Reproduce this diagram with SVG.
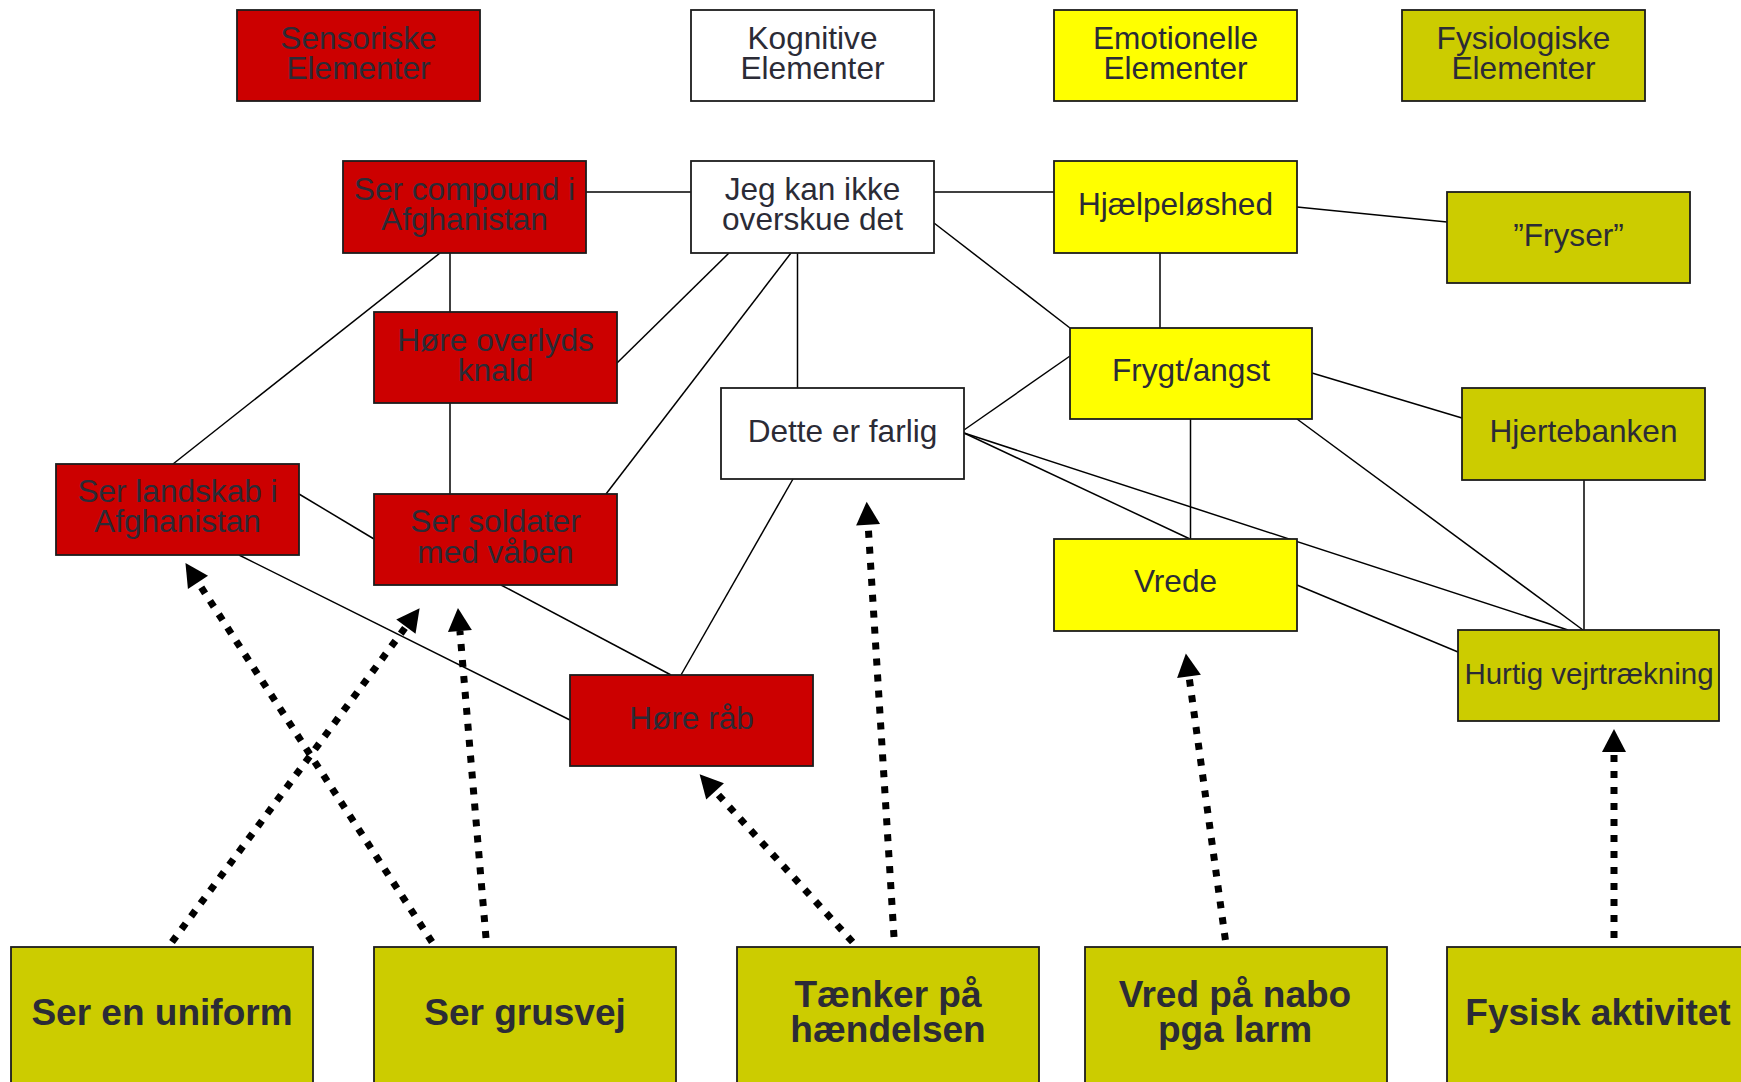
<svg xmlns="http://www.w3.org/2000/svg" width="1741" height="1082" viewBox="0 0 1741 1082">
<defs>
<style>
.box{stroke:#1c1c1c;stroke-width:1.8}
.red{fill:#cc0000}
.wht{fill:#ffffff}
.yel{fill:#ffff00}
.olv{fill:#cccc00}
.t{font-family:"Liberation Sans",Arial,sans-serif;font-size:31.6px;fill:#2b2b36;text-anchor:middle}
.tb{font-family:"Liberation Sans",Arial,sans-serif;font-size:37px;font-weight:bold;fill:#2b2b36;text-anchor:middle}
.ln{stroke:#000;stroke-width:1.5;fill:none}
.dash{stroke:#000;stroke-width:7;fill:none;stroke-dasharray:7 9;marker-end:url(#ah)}
</style>
<marker id="ah" markerUnits="userSpaceOnUse" markerWidth="24" markerHeight="24" refX="0" refY="12" orient="auto" overflow="visible">
<path d="M0,0 L23,12 L0,24 z" fill="#000"/>
</marker>
</defs>
<rect width="1741" height="1082" fill="#ffffff"/>
<g id="connectors">
<line class="ln" x1="586" y1="192" x2="691" y2="192"/>
<line class="ln" x1="934" y1="192" x2="1054" y2="192"/>
<line class="ln" x1="1297" y1="207" x2="1447" y2="222"/>
<line class="ln" x1="934" y1="223" x2="1070" y2="328"/>
<line class="ln" x1="1160" y1="253" x2="1160" y2="328"/>
<line class="ln" x1="440" y1="253" x2="173" y2="464"/>
<line class="ln" x1="450" y1="253" x2="450" y2="312"/>
<line class="ln" x1="450" y1="403" x2="450" y2="494"/>
<line class="ln" x1="299" y1="494" x2="374" y2="539"/>
<line class="ln" x1="239" y1="555" x2="570" y2="720"/>
<line class="ln" x1="501" y1="585" x2="671" y2="675"/>
<line class="ln" x1="793" y1="479" x2="681" y2="675"/>
<line class="ln" x1="729" y1="253" x2="617" y2="363"/>
<line class="ln" x1="791" y1="253" x2="606" y2="494"/>
<line class="ln" x1="797.5" y1="253" x2="797.5" y2="388"/>
<line class="ln" x1="964" y1="430" x2="1070" y2="356"/>
<line class="ln" x1="964" y1="433" x2="1190" y2="539"/>
<line class="ln" x1="964" y1="433" x2="1568" y2="630"/>
<line class="ln" x1="1190.5" y1="419" x2="1190.5" y2="539"/>
<line class="ln" x1="1312" y1="373" x2="1462" y2="418"/>
<line class="ln" x1="1297" y1="419" x2="1583" y2="630"/>
<line class="ln" x1="1584" y1="480" x2="1584" y2="630"/>
<line class="ln" x1="1297" y1="585" x2="1458" y2="652"/>
<path class="dash" d="M172,942 L405.9,626.7"/>
<path class="dash" d="M432,942 L198,582.4"/>
<path class="dash" d="M486,938 L459.9,630.9"/>
<path class="dash" d="M852.6,942 L715.1,791.3"/>
<path class="dash" d="M894,937 L868.1,524.7"/>
<path class="dash" d="M1225.4,940 L1189,676.3"/>
<path class="dash" d="M1614,938 L1614,752"/>
</g>
<g id="n-sensoriske"><rect class="box red" x="237" y="10" width="243" height="91"/><text class="t" x="358.5" y="48.5">Sensoriske</text><text class="t" x="358.5" y="78.5">Elementer</text></g>
<g id="n-kognitive"><rect class="box wht" x="691" y="10" width="243" height="91"/><text class="t" x="812.5" y="48.5">Kognitive</text><text class="t" x="812.5" y="78.5">Elementer</text></g>
<g id="n-emotionelle"><rect class="box yel" x="1054" y="10" width="243" height="91"/><text class="t" x="1175.5" y="48.5">Emotionelle</text><text class="t" x="1175.5" y="78.5">Elementer</text></g>
<g id="n-fysiologiske"><rect class="box olv" x="1402" y="10" width="243" height="91"/><text class="t" x="1523.5" y="48.5">Fysiologiske</text><text class="t" x="1523.5" y="78.5">Elementer</text></g>
<g id="n-compound"><rect class="box red" x="343" y="161" width="243" height="92"/><text class="t" x="464.5" y="200">Ser compound i</text><text class="t" x="464.5" y="230">Afghanistan</text></g>
<g id="n-overskue"><rect class="box wht" x="691" y="161" width="243" height="92"/><text class="t" x="812.5" y="200">Jeg kan ikke</text><text class="t" x="812.5" y="230">overskue det</text></g>
<g id="n-hjaelpeloshed"><rect class="box yel" x="1054" y="161" width="243" height="92"/><text class="t" x="1175.5" y="215">Hjælpeløshed</text></g>
<g id="n-fryser"><rect class="box olv" x="1447" y="192" width="243" height="91"/><text class="t" x="1568.5" y="245.5">”Fryser”</text></g>
<g id="n-overlyds"><rect class="box red" x="374" y="312" width="243" height="91"/><text class="t" x="495.5" y="350.5">Høre overlyds</text><text class="t" x="495.5" y="380.5">knald</text></g>
<g id="n-frygt"><rect class="box yel" x="1070" y="328" width="242" height="91"/><text class="t" x="1191" y="381">Frygt/angst</text></g>
<g id="n-farlig"><rect class="box wht" x="721" y="388" width="243" height="91"/><text class="t" x="842.5" y="441.5">Dette er farlig</text></g>
<g id="n-hjertebanken"><rect class="box olv" x="1462" y="388" width="243" height="92"/><text class="t" x="1583.5" y="442">Hjertebanken</text></g>
<g id="n-landskab"><rect class="box red" x="56" y="464" width="243" height="91"/><text class="t" x="177.5" y="501.5">Ser landskab i</text><text class="t" x="177.5" y="532">Afghanistan</text></g>
<g id="n-soldater"><rect class="box red" x="374" y="494" width="243" height="91"/><text class="t" x="495.5" y="532">Ser soldater</text><text class="t" x="495.5" y="562.5">med våben</text></g>
<g id="n-vrede"><rect class="box yel" x="1054" y="539" width="243" height="92"/><text class="t" x="1175.5" y="592">Vrede</text></g>
<g id="n-hurtig"><rect class="box olv" x="1458" y="630" width="261" height="91"/><text class="t" x="1589" y="683.5" style="font-size:29.5px">Hurtig vejrtrækning</text></g>
<g id="n-raab"><rect class="box red" x="570" y="675" width="243" height="91"/><text class="t" x="691.5" y="728.5">Høre råb</text></g>
<g id="n-uniform"><rect class="box olv" x="11" y="947" width="302" height="160"/><text class="tb" x="162" y="1025">Ser en uniform</text></g>
<g id="n-grusvej"><rect class="box olv" x="374" y="947" width="302" height="160"/><text class="tb" x="525" y="1025">Ser grusvej</text></g>
<g id="n-taenker"><rect class="box olv" x="737" y="947" width="302" height="160"/><text class="tb" x="888" y="1007">Tænker på</text><text class="tb" x="888" y="1042">hændelsen</text></g>
<g id="n-nabo"><rect class="box olv" x="1085" y="947" width="302" height="160"/><text class="tb" x="1235" y="1007">Vred på nabo</text><text class="tb" x="1235" y="1042">pga larm</text></g>
<g id="n-fysisk"><rect class="box olv" x="1447" y="947" width="302" height="160"/><text class="tb" x="1598" y="1025">Fysisk aktivitet</text></g>
</svg>
